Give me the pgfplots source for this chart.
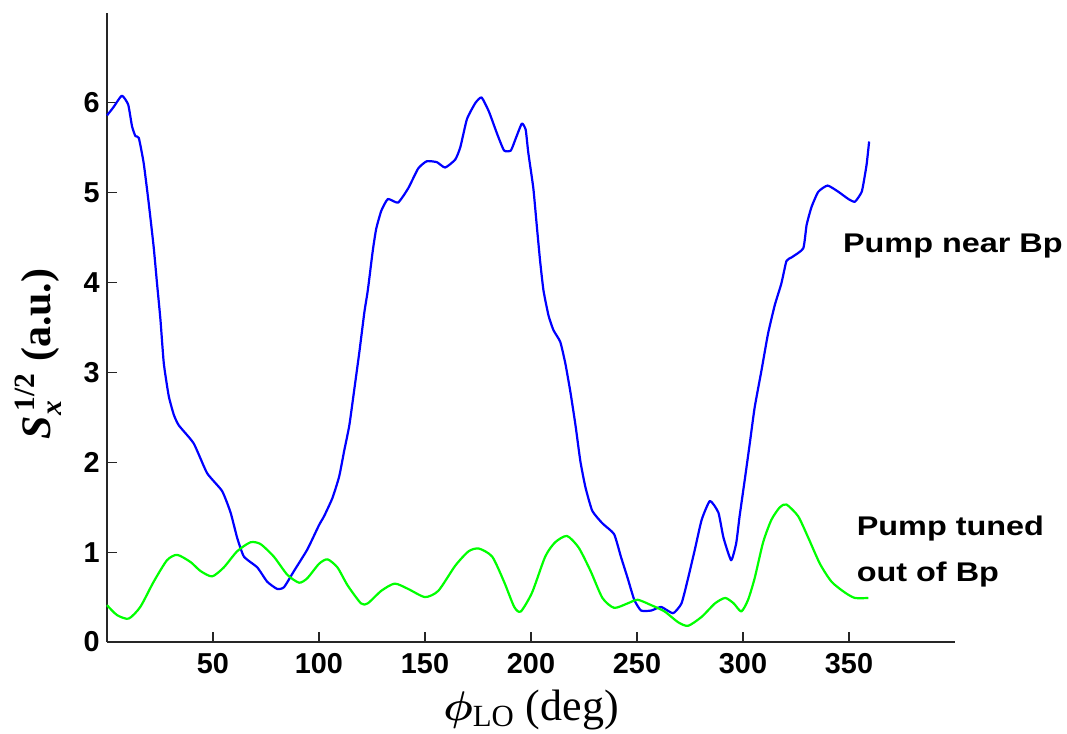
\documentclass[border=0pt]{standalone}
\usepackage{amsmath}
\usepackage{bm}
\usepackage{fontspec}
\setmainfont{Liberation Serif}
\newfontfamily\arialb{Liberation Sans}
\newfontfamily\arialw[FakeStretch=1.2]{Liberation Sans}
\usepackage{pgfplots}
\pgfplotsset{compat=1.18}
\definecolor{mblue}{RGB}{0,0,255}
\definecolor{mgreen}{RGB}{0,255,0}
\begin{document}
\begin{tikzpicture}
\path[use as bounding box] (-53.5pt,-46pt) rectangle (480pt,321pt);
\begin{axis}[
  at={(0pt,0pt)}, anchor=south west,
  scale only axis, width=424pt, height=314.5pt,
  xmin=0, xmax=400, ymin=0, ymax=7,
  axis x line*=bottom, axis y line*=left,
  axis line style={line width=0.75pt, black!85, -},
  tick align=inside,
  major tick length=5pt,
  tick style={line width=0.6pt, black!85},
  xtick={50,100,...,350},
  ytick={0,1,...,6},
  /pgf/number format/assume math mode=true,
  ticklabel style={font=\arialb\bfseries\fontsize{14.4}{16}\selectfont},
  xticklabel style={inner sep=0pt, yshift=-5.5pt},
  yticklabel style={inner sep=0pt, xshift=-3.5pt},
  xlabel={$\bm{\phi}_{\mathrm{LO}}$ (deg)},
  every axis x label/.style={at={(axis description cs:0.5,0)}, anchor=base, yshift=-39pt, font=\fontsize{22}{24}\selectfont},
  ylabel={$\textbf{\textit{S}}_{\textbf{\textit{x}}}^{\,\textbf{1/2}}$ \textbf{(a.u.)}},
  every axis y label/.style={at={(axis description cs:0,0.458)}, xshift=-28pt, rotate=90, anchor=base, font=\fontsize{21}{24}\selectfont},
  clip=false,
]
\addplot[mblue, line width=1.1pt, line join=round, smooth, tension=0.3] coordinates {
(0,5.86)(3,5.95)(7,6.08)(10,5.98)(11.8,5.74)(13.4,5.63)(15,5.61)(17.3,5.33)(19.7,4.88)(22,4.40)(23.6,3.99)(25.2,3.59)(26.8,3.10)(29.1,2.74)(31.5,2.53)(33.9,2.41)(40.9,2.21)(47.2,1.88)(54.3,1.68)(58.3,1.44)(61.4,1.16)(64.6,0.95)(70.9,0.83)(75.6,0.67)(80.3,0.59)(83.5,0.61)(88.2,0.79)(94.5,1.03)(100,1.30)(102.4,1.40)(106.3,1.60)(109.5,1.84)(111.9,2.13)(114.3,2.41)(116.7,2.82)(119,3.22)(121.4,3.67)(123,3.91)(125.4,4.36)(127,4.60)(129.4,4.80)(132.5,4.93)(137.3,4.89)(142.1,5.05)(146.8,5.27)(150.8,5.35)(155.6,5.34)(159.5,5.28)(164.3,5.37)(166.7,5.51)(169.8,5.82)(173.8,6.00)(176.7,6.06)(180.2,5.90)(184.1,5.65)(187.3,5.47)(190.5,5.47)(192.9,5.61)(195.7,5.77)(197.5,5.70)(198.7,5.45)(201.1,5.05)(202.7,4.64)(204.3,4.24)(205.9,3.91)(208.3,3.63)(210.6,3.47)(213.8,3.34)(216.2,3.10)(218.6,2.78)(221,2.41)(223.3,2.01)(225.7,1.72)(228.9,1.46)(233.7,1.32)(239.2,1.20)(242.4,0.95)(245.6,0.71)(248.7,0.47)(251.9,0.35)(256.7,0.35)(261.4,0.39)(267,0.32)(271,0.43)(274.1,0.71)(277.3,1.03)(280.5,1.36)(284.4,1.57)(288.4,1.44)(290.8,1.16)(294.4,0.91)(296.8,1.10)(298.4,1.40)(300.8,1.80)(303.2,2.21)(305.5,2.61)(308.7,3.02)(311.8,3.43)(315,3.75)(318.1,3.99)(320.5,4.24)(322.9,4.28)(328.4,4.38)(330,4.64)(332.3,4.84)(335.5,5.01)(339.9,5.08)(345,5.01)(349.7,4.93)(352.8,4.90)(356,5.01)(357.6,5.21)(358.4,5.33)(359.5,5.57)
};
\addplot[mgreen, line width=1.1pt, line join=round, smooth, tension=0.4] coordinates {
(0,0.41)(4.7,0.30)(10.2,0.26)(15.7,0.39)(22,0.67)(28.3,0.91)(33.1,0.97)(39.4,0.89)(44.1,0.79)(49.6,0.73)(55.1,0.83)(61.4,1.01)(67.7,1.11)(72.4,1.09)(78.7,0.95)(85,0.75)(90.6,0.66)(94.5,0.71)(100,0.87)(104,0.92)(108.7,0.83)(113.5,0.63)(119.8,0.43)(123,0.43)(129.4,0.57)(135.7,0.65)(142.1,0.59)(150,0.50)(156.3,0.57)(164.3,0.85)(170.6,1.01)(175.4,1.04)(181.7,0.95)(187.3,0.67)(192.1,0.39)(195.2,0.34)(200.5,0.55)(206.7,0.95)(211.4,1.11)(217,1.18)(222.5,1.05)(228.1,0.79)(233.7,0.49)(239.2,0.38)(245.6,0.43)(250.3,0.47)(256.7,0.41)(263,0.34)(269.4,0.22)(274.1,0.18)(280.5,0.28)(286.8,0.43)(291.6,0.49)(295.6,0.43)(299.2,0.34)(302.4,0.47)(305.5,0.71)(309.5,1.11)(313.4,1.36)(317.4,1.50)(320.5,1.53)(326,1.40)(330.8,1.16)(336.3,0.87)(341.8,0.67)(348.1,0.55)(352.8,0.49)(359.1,0.49)
};
\node[anchor=base west, inner sep=0pt, font=\arialw\bfseries\fontsize{13.5}{15}\selectfont] at (axis cs:347,4.33) {Pump near Bp};
\node[anchor=base west, inner sep=0pt, font=\arialw\bfseries\fontsize{13.5}{15}\selectfont] at (axis cs:353.5,1.19) {Pump tuned};
\node[anchor=base west, inner sep=0pt, font=\arialw\bfseries\fontsize{13.5}{15}\selectfont] at (axis cs:353.5,0.67) {out of Bp};
\end{axis}
\end{tikzpicture}
\end{document}
